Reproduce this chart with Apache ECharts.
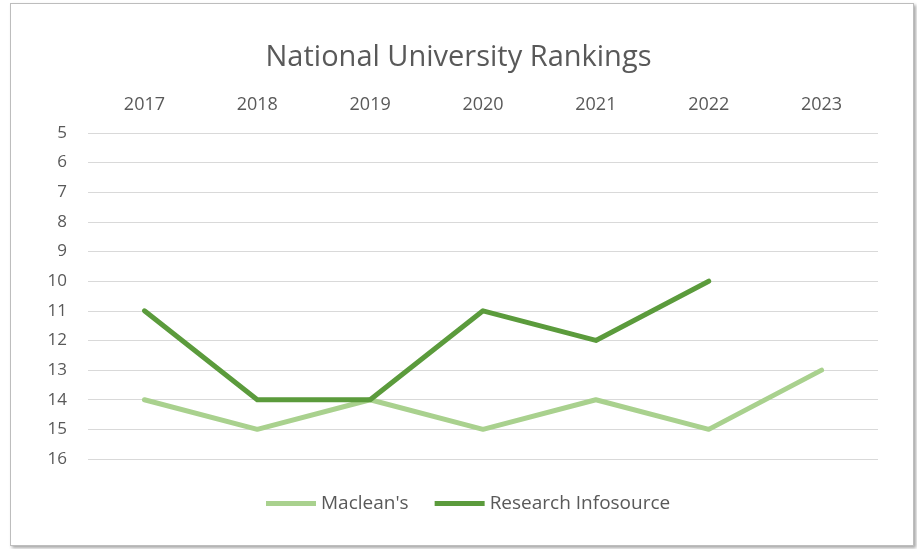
<!DOCTYPE html>
<html>
<head>
<meta charset="utf-8">
<script src="https://cdn.jsdelivr.net/npm/echarts@6/dist/echarts.min.js"></script>
<style>
html,body{margin:0;padding:0;background:#ffffff;}
#frame{position:absolute;left:10px;top:3px;width:902px;height:541px;border:1px solid #bdbdbd;box-shadow:2px 2px 3px rgba(0,0,0,0.35);background:#fff;}
#chart{position:absolute;left:0;top:0;width:917px;height:549px;}
</style>
</head>
<body>
<div id="frame"></div>
<div id="chart"></div>
<script>
var years = ['2017','2018','2019','2020','2021','2022','2023'];
var macleans = [14, 15, 14, 15, 14, 15, 13];
var researchInfosource = [11, 14, 14, 11, 12, 10, null];
var yTicks = {min: 5, max: 16, interval: 1};

var chart = echarts.init(document.getElementById('chart'));
var fontFam = '"Open Sans", "Noto Sans", sans-serif';
chart.setOption({
  backgroundColor: 'transparent',
  animation: false,
  title: {
    text: 'National University Rankings',
    left: 'center',
    top: 38,
    textStyle: {color: '#595959', fontSize: 29, fontWeight: 'normal', fontFamily: fontFam}
  },
  legend: {
    bottom: 31,
    left: 261,
    icon: 'rect',
    itemWidth: 50,
    itemHeight: 5,
    itemGap: 26,
    textStyle: {color: '#595959', fontSize: 19, fontFamily: fontFam},
    data: ["Maclean's", 'Research Infosource']
  },
  grid: {left: 88, right: 39, top: 133, bottom: 90, containLabel: false},
  xAxis: {
    type: 'category',
    position: 'top',
    data: years,
    boundaryGap: true,
    axisLine: {show: false},
    axisTick: {show: false},
    axisLabel: {color: '#595959', fontSize: 18, margin: 19, fontFamily: fontFam}
  },
  yAxis: {
    type: 'value',
    inverse: true,
    min: yTicks.min,
    max: yTicks.max,
    interval: yTicks.interval,
    axisLine: {show: false},
    axisTick: {show: false},
    axisLabel: {color: '#595959', fontSize: 17, margin: 21, fontFamily: fontFam},
    splitLine: {lineStyle: {color: '#d9d9d9', width: 1}}
  },
  series: [
    {
      name: "Maclean's",
      type: 'line',
      data: macleans,
      symbol: 'none',
      color: '#a9d18e',
      lineStyle: {width: 5, color: '#a9d18e', cap: 'round', join: 'round'}
    },
    {
      name: 'Research Infosource',
      type: 'line',
      data: researchInfosource,
      symbol: 'none',
      color: '#5b9b3c',
      lineStyle: {width: 5, color: '#5b9b3c', cap: 'round', join: 'round'}
    }
  ]
});
</script>
</body>
</html>
